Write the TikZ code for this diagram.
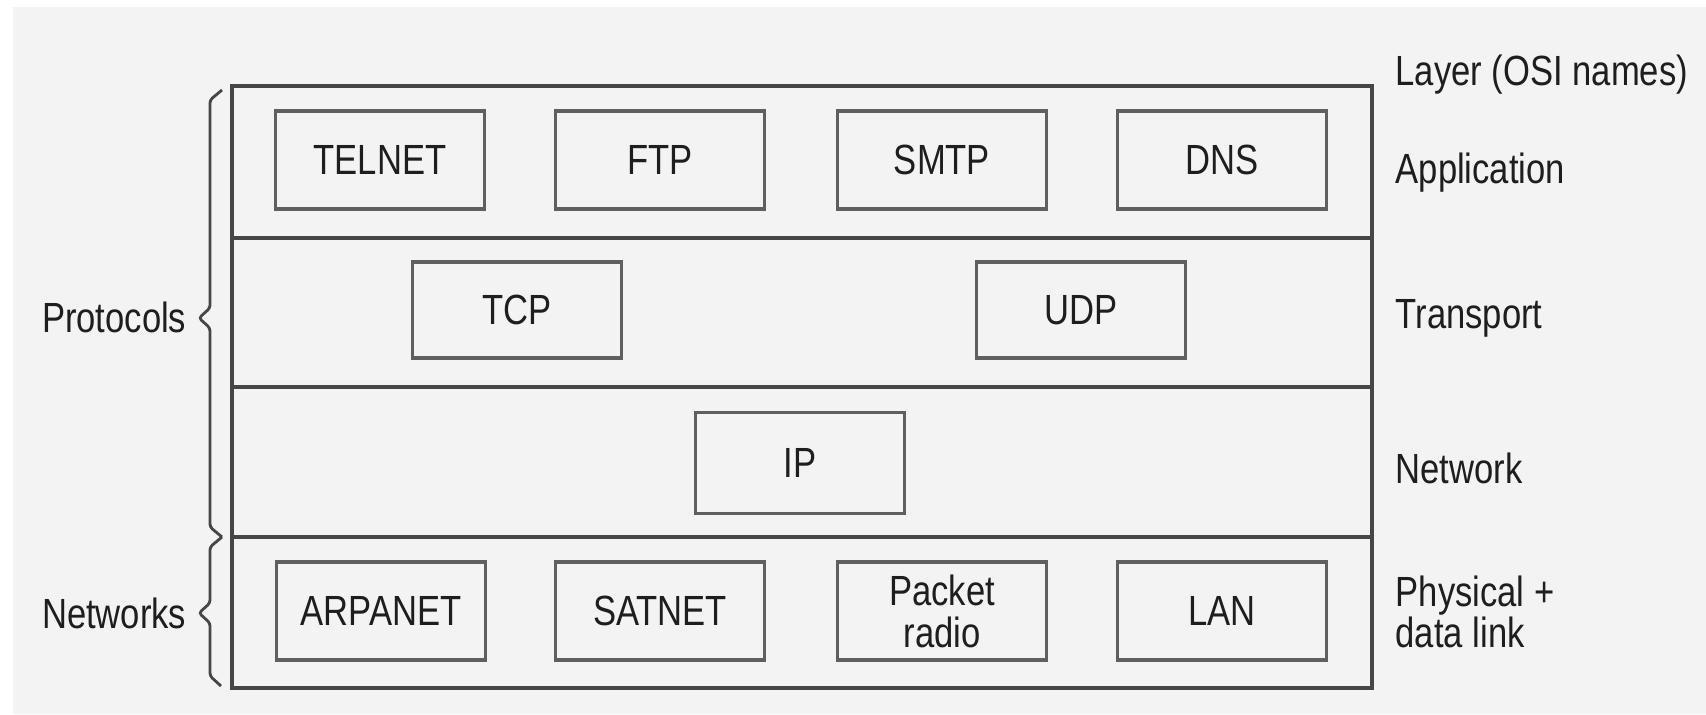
\documentclass[tikz,border=0pt]{standalone}
\usepackage{fontspec}
\setmainfont{Liberation Sans}[FakeStretch=0.82]
\definecolor{bg}{RGB}{243,243,243}
\definecolor{ln}{RGB}{70,70,70}
\definecolor{bx}{RGB}{95,95,95}
\definecolor{tx}{RGB}{30,30,30}
\begin{document}
\begin{tikzpicture}[x=0.01cm,y=-0.01cm,
  proto/.style={draw=bx,line width=0.9pt,minimum width=2.09cm,minimum height=0.98cm,
    inner sep=0pt,align=center,text=tx,font=\fontsize{12}{12}\selectfont},
  lbl/.style={anchor=base west,text=tx,inner sep=0pt,align=left,font=\fontsize{12}{11.5}\selectfont},
  side/.style={anchor=base east,text=tx,inner sep=0pt,font=\fontsize{12}{12}\selectfont},
  sep/.style={draw=ln,line width=1pt},
  brc/.style={draw=ln,line width=0.8pt,rounded corners=0.03cm}]
\useasboundingbox (0,0) rectangle (1706,714);
\fill[white] (0,0) rectangle (1706,714);
\fill[bg] (13,7) rectangle (1706,714);
% frame and layer separators
\coordinate (tl) at (232,86);
\coordinate (br) at (1372,688);
\draw[sep] (tl) rectangle (br);
\coordinate (s1l) at (232,238); \coordinate (s1r) at (1372,238);
\coordinate (s2l) at (232,387); \coordinate (s2r) at (1372,387);
\coordinate (s3l) at (232,537); \coordinate (s3r) at (1372,537);
\draw[sep] (s1l) -- (s1r);
\draw[sep] (s2l) -- (s2r);
\draw[sep] (s3l) -- (s3r);
% application
\node[proto] (telnet) at (380,160) {TELNET};
\node[proto] (ftp) at (660,160) {FTP};
\node[proto] (smtp) at (942,160) {SMTP};
\node[proto] (dns) at (1222,160) {DNS};
% transport
\node[proto,minimum height=0.96cm] (tcp) at (517,310) {TCP};
\node[proto,minimum height=0.96cm] (udp) at (1081,310) {UDP};
% network
\node[proto,minimum height=1.01cm] (ip) at (800,463) {IP};
% physical
\node[proto] (arpanet) at (381,611) {ARPANET};
\node[proto] (satnet) at (660,611) {SATNET};
\node[proto] (packet) at (942,611) {Packet\\radio};
\node[proto] (lan) at (1222,611) {LAN};
% layer names
\node[lbl] (hdr) at (1395,85) {Layer (OSI names)};
\node[lbl] (lapp) at (1395,183) {Application};
\node[lbl] (ltra) at (1395,328) {Transport};
\node[lbl] (lnet) at (1395,483) {Network};
\node[lbl] (lphy) at (1395,647) {Physical +\\data link};
% braces
\coordinate (pt) at (222,90); \coordinate (mid) at (222,537); \coordinate (nb) at (221,686);
\coordinate (ptip) at (199,318); \coordinate (ntip) at (199,613);
\draw[brc] (pt) -- (210,100) -- (210,308) -- (ptip) -- (210,328) -- (210,527) -- (mid);
\draw[brc] (mid) -- (210,547) -- (210,603) -- (ntip) -- (210,623) -- (210,676) -- (nb);
\node[side] (protocols) at (187,332) {Protocols};
\node[side] (networks) at (187,628) {Networks};
\end{tikzpicture}
\end{document}
